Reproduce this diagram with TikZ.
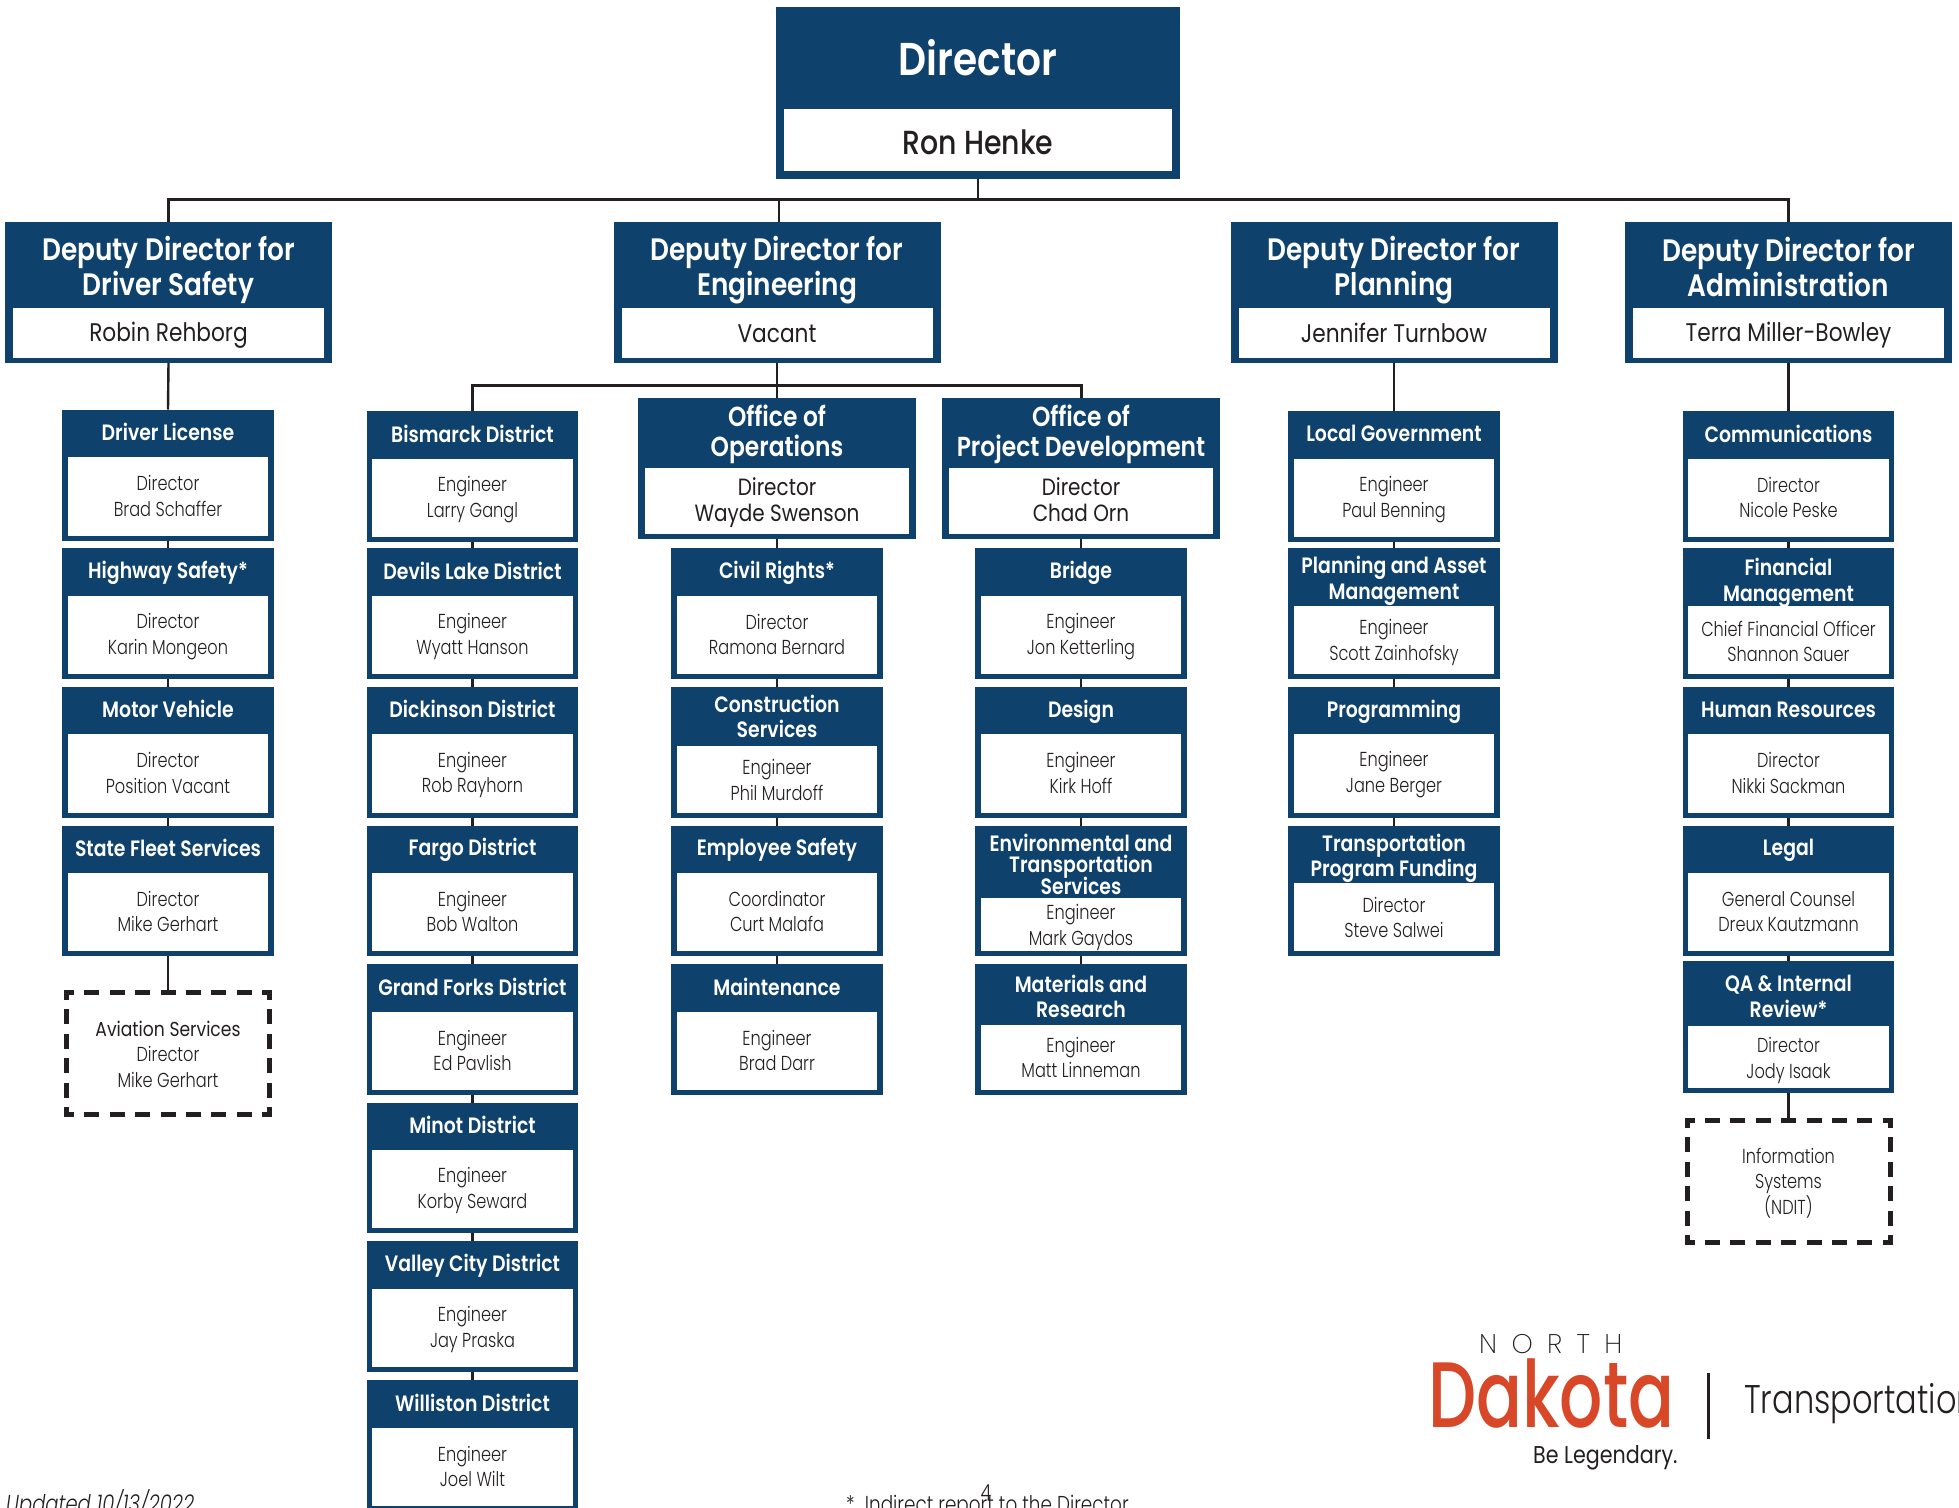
\documentclass[tikz,border=0pt]{standalone}
\usepackage{fontspec}
\setmainfont{Poppins}[FakeStretch=0.8,ItalicFont={Poppins Light Italic},UprightFont={Poppins Light}]
\newfontfamily\capf{Poppins SemiBold}[FakeStretch=0.85]
\newfontfamily\medfont{Poppins Medium}[FakeStretch=0.85]
\newfontfamily\reg{Poppins}[FakeStretch=0.85]
\newfontfamily\thin{Poppins ExtraLight}
\newfontfamily\logofont{Poppins Medium}[FakeStretch=0.73]
\definecolor{ndblue}{HTML}{0F416D}
\definecolor{ink}{HTML}{231F20}
\definecolor{ndred}{HTML}{D84727}
\newcommand{\tst}{\rule{0pt}{0.72em}}
\newcommand{\bst}{\rule[-0.2em]{0pt}{0.2em}}
\tikzset{
 x=1pt,y=-1pt,
 outerbox/.style={fill=ndblue,draw=none,inner sep=0,outer sep=0,anchor=north},
 whitebox/.style={fill=white,draw=none,inner sep=0,outer sep=0,anchor=north},
 caption/.style={text=white,align=center,inner sep=0},
 bodytext/.style={text=ink,align=center,inner sep=0},
 conn/.style={draw=ink,line width=2.4pt},
 bus/.style={draw=ink,line width=3pt},
 dashbox/.style={draw=none,inner sep=0,outer sep=0,anchor=north,minimum width=203pt,minimum height=122pt},
 dashh/.style={draw=ink,line width=5pt,line cap=rect,dash pattern=on 10pt off 15.4pt,dash phase=5pt},
 dashv/.style={draw=ink,line width=5pt,line cap=rect,dash pattern=on 10pt off 14.4pt,dash phase=5pt},
}
\def\cw{211.5}\def\cb{5.5}\def\cbb{5}
\def\tdy{1}\def\bdy{1.5}
\def\tfs{\fontsize{22.2}{25.5}\selectfont}
\def\bfs{\fontsize{20.2}{25.5}\selectfont}
\newcommand{\card}[7]{%
 \pgfmathsetmacro{\hh}{#5-#3}\pgfmathsetmacro{\wh}{#5-\cbb-#4}\pgfmathsetmacro{\ww}{\cw-2*\cb}
 \pgfmathsetmacro{\ty}{(#3+#4)/2+\tdy}\pgfmathsetmacro{\by}{(#4+#5-\cbb)/2+\bdy}
 \node[outerbox,minimum width=\cw pt,minimum height=\hh pt] (#1) at (#2,#3) {};
 \node[whitebox,minimum width=\ww pt,minimum height=\wh pt] (#1w) at (#2,#4) {};
 \node[caption,font=\tfs\capf] (#1t) at (#2,\ty) {\tst #6\bst};
 \node[bodytext,font=\bfs] (#1b) at (#2,\by) {\tst #7\bst};
}
\newcommand{\link}[2]{\draw[conn] (#1.south) -- (#2.north);}
\newcommand{\dashframe}[1]{%
 \draw[dashh] (#1.north west) -- (#1.north east);
 \draw[dashh] (#1.south west) -- (#1.south east);
 \draw[dashv] (#1.north west) -- (#1.south west);
 \draw[dashv] (#1.north east) -- (#1.south east);
}
\begin{document}
\begin{tikzpicture}
\useasboundingbox (0,0) rectangle (1959,1507);
\clip (0,0) rectangle (1959,1507);
\fill[white] (0,0) rectangle (1959,1507);

% Director
\begingroup
\def\cw{404}\def\cb{8}\def\cbb{7.5}\def\tdy{4}\def\bdy{5}
\def\tfs{\fontsize{46}{50}\selectfont}\def\bfs{\fontsize{33.4}{36}\selectfont}
\card{dir}{978}{7}{109}{178.5}{Director}{\medfont Ron Henke}
\endgroup
% Deputies
\begingroup
\def\cw{327}\def\cb{8}\def\cbb{5}\def\tdy{5}\def\bdy{2.5}
\def\tfs{\fontsize{31}{35}\selectfont}\def\bfs{\fontsize{25.5}{30}\selectfont}
\card{depa}{168.5}{222}{308}{363}{Deputy Director for\\Driver Safety}{\reg Robin Rehborg}
\card{depb}{777}{222}{308}{363}{Deputy Director for\\Engineering}{\reg Vacant}
\card{depc}{1394}{222}{308}{363}{Deputy Director for\\Planning}{\reg Jennifer Turnbow}
\card{depd}{1788.5}{222}{308}{363}{Deputy Director for\\Administration}{\reg Terra Miller-Bowley}
\endgroup
% Offices
\begingroup
\def\cw{278}\def\cb{7}\def\cbb{5.5}\def\tdy{1.5}\def\bdy{1.5}
\def\tfs{\fontsize{27.5}{29.5}\selectfont}\def\bfs{\fontsize{23.5}{26}\selectfont}
\card{ops}{777}{398}{468}{539}{Office of\\Operations}{\reg Director\\\reg Wayde Swenson}
\card{prd}{1081}{398}{468}{539}{Office of\\Project Development}{\reg Director\\\reg Chad Orn}
\endgroup
% Column 1
\card{aa}{168}{409.5}{457}{540.5}{Driver License}{Director\\Brad Schaffer}
\card{ab}{168}{548}{596}{679}{Highway Safety*}{Director\\Karin Mongeon}
\card{ac}{168}{687}{734}{817.5}{Motor Vehicle}{Director\\Position Vacant}
\card{ad}{168}{825.5}{873}{956}{State Fleet Services}{Director\\Mike Gerhart}
\node[dashbox] (ae) at (168,992.5) {};
\dashframe{ae}
\node[bodytext,font=\bfs] (aet) at (168,1056) {\tst {\reg Aviation Services}\\Director\\Mike Gerhart\bst};
% Column 2
\card{ba}{472.5}{411}{459}{542}{Bismarck District}{Engineer\\Larry Gangl}
\card{bb}{472.5}{548}{596}{679}{Devils Lake District}{Engineer\\Wyatt Hanson}
\card{bc}{472.5}{687}{734}{817.5}{Dickinson District}{Engineer\\Rob Rayhorn}
\card{bd}{472.5}{825.5}{873}{956}{Fargo District}{Engineer\\Bob Walton}
\card{be}{472.5}{964}{1012}{1095}{Grand Forks District}{Engineer\\Ed Pavlish}
\card{bf}{472.5}{1102.5}{1150}{1233}{Minot District}{Engineer\\Korby Seward}
\card{bg}{472.5}{1241}{1289}{1372}{Valley City District}{Engineer\\Jay Praska}
\card{bh}{472.5}{1380}{1428}{1511}{Williston District}{Engineer\\Joel Wilt}
% Column 3
\card{ca}{777}{548}{596}{679}{Civil Rights*}{Director\\Ramona Bernard}
\begingroup\def\tdy{2}\def\bdy{2.5}
\card{cb}{777}{687}{746}{817.5}{Construction\\Services}{Engineer\\Phil Murdoff}
\endgroup
\card{cc}{777}{825.5}{873}{956}{Employee Safety}{Coordinator\\Curt Malafa}
\card{cd}{777}{964}{1012}{1095}{Maintenance}{Engineer\\Brad Darr}
% Column 4
\card{da}{1081}{548}{596}{679}{Bridge}{Engineer\\Jon Ketterling}
\card{db}{1081}{687}{734}{817.5}{Design}{Engineer\\Kirk Hoff}
\begingroup\def\tdy{4.5}\def\bdy{3}
\def\tfs{\fontsize{22.2}{21.3}\lineskiplimit=-100pt\lineskip=0pt\selectfont}
\card{dc}{1081}{825.5}{898}{956}{Environmental and\\Transportation\\Services}{Engineer\\Mark Gaydos}
\endgroup
\begingroup\def\tdy{4}\def\bdy{2}
\card{dd}{1081}{964}{1025}{1095}{Materials and\\Research}{Engineer\\Matt Linneman}
\endgroup
% Column 5
\card{ea}{1394}{411}{459}{542}{Local Government}{Engineer\\Paul Benning}
\begingroup\def\tdy{4}\def\bdy{2.5}
\card{eb}{1394}{548}{606}{679}{Planning and Asset\\Management}{Engineer\\Scott Zainhofsky}
\endgroup
\card{ec}{1394}{687}{734}{817.5}{Programming}{Engineer\\Jane Berger}
\begingroup\def\tdy{4}\def\bdy{2.5}
\card{ed}{1394}{825.5}{883}{956}{Transportation\\Program Funding}{Director\\Steve Salwei}
\endgroup
% Column 6
\card{fa}{1788.5}{411}{459}{542}{Communications}{Director\\Nicole Peske}
\begingroup\def\tdy{6}\def\bdy{3.5}
\card{fb}{1788.5}{548}{606}{679}{Financial\\Management}{Chief Financial Officer\\Shannon Sauer}
\endgroup
\card{fc}{1788.5}{687}{734}{817.5}{Human Resources}{Director\\Nikki Sackman}
\card{fd}{1788.5}{825.5}{873}{956}{Legal}{General Counsel\\Dreux Kautzmann}
\begingroup\def\tdy{5}\def\bdy{3.5}
\card{fe}{1788.5}{961}{1026}{1093}{QA \& Internal\\Review*}{Director\\Jody Isaak}
\endgroup
\node[dashbox] (ff) at (1788.5,1120.5) {};
\dashframe{ff}
\node[bodytext,font=\bfs] (fft) at (1788.5,1183) {\tst Information\\Systems\\(NDIT)\bst};

% Connectors
\coordinate (bus) at (978,199);
\draw[conn] (dir.south) -- (bus);
\draw[bus] (depa.north) |- (bus);
\draw[bus] (depd.north) |- (bus);
\draw[conn] ([xshift=2pt]depb.north) -- ++(0,-23);
\coordinate (busb) at (777,385);
\draw[conn] (depb.south) -- (ops.north);
\draw[bus] (ba.north) |- (busb);
\draw[bus] (prd.north) |- (busb);
\link{depa}{aa}\link{aa}{ab}\link{ab}{ac}\link{ac}{ad}\link{ad}{ae}
\link{ba}{bb}\link{bb}{bc}\link{bc}{bd}\link{bd}{be}\link{be}{bf}\link{bf}{bg}\link{bg}{bh}
\link{ops}{ca}\link{ca}{cb}\link{cb}{cc}\link{cc}{cd}
\link{prd}{da}\link{da}{db}\link{db}{dc}\link{dc}{dd}
\link{depc}{ea}\link{ea}{eb}\link{eb}{ec}\link{ec}{ed}
\link{depd}{fa}\link{fa}{fb}\link{fb}{fc}\link{fc}{fd}\link{fd}{fe}\link{fe}{ff}

% Logo
\node[anchor=base west,inner sep=0,text=ink,font={\fontsize{27}{27}\thin\addfontfeature{LetterSpace=53}\selectfont}] (lgn) at (1479,1353) {NORTH};
\node[anchor=base west,inner sep=0,text=ndred,font={\fontsize{93}{93}\logofont\selectfont}] (lgd) at (1428,1427) {Dakota};
\coordinate (lga) at (1708.4,1372.6);
\coordinate (lgb) at (1708.4,1439);
\draw[ink,line width=3pt] (lga) -- (lgb);
\node[anchor=base west,inner sep=0,text=ink,font={\fontsize{40}{40}\selectfont}] (lgt) at (1744,1413.6) {Transportation};
\node[anchor=base west,inner sep=0,text=ink,font={\fontsize{24.3}{24.3}\reg\selectfont}] (lgl) at (1533,1463) {Be Legendary.};
% Footer
\node[anchor=base west,inner sep=0,text=ink,font={\fontsize{24.4}{24.4}\itshape\selectfont}] (upd) at (6,1512) {Updated 10/13/2022};
\node[anchor=base west,inner sep=0,text=ink,font={\fontsize{23}{23}\selectfont}] (ind) at (846,1512) {*\ \ Indirect report to the Director};
\node[anchor=base,inner sep=0,text=ink,font={\fontsize{22}{22}\selectfont}] (pg) at (986,1500) {4};
\end{tikzpicture}
\end{document}
